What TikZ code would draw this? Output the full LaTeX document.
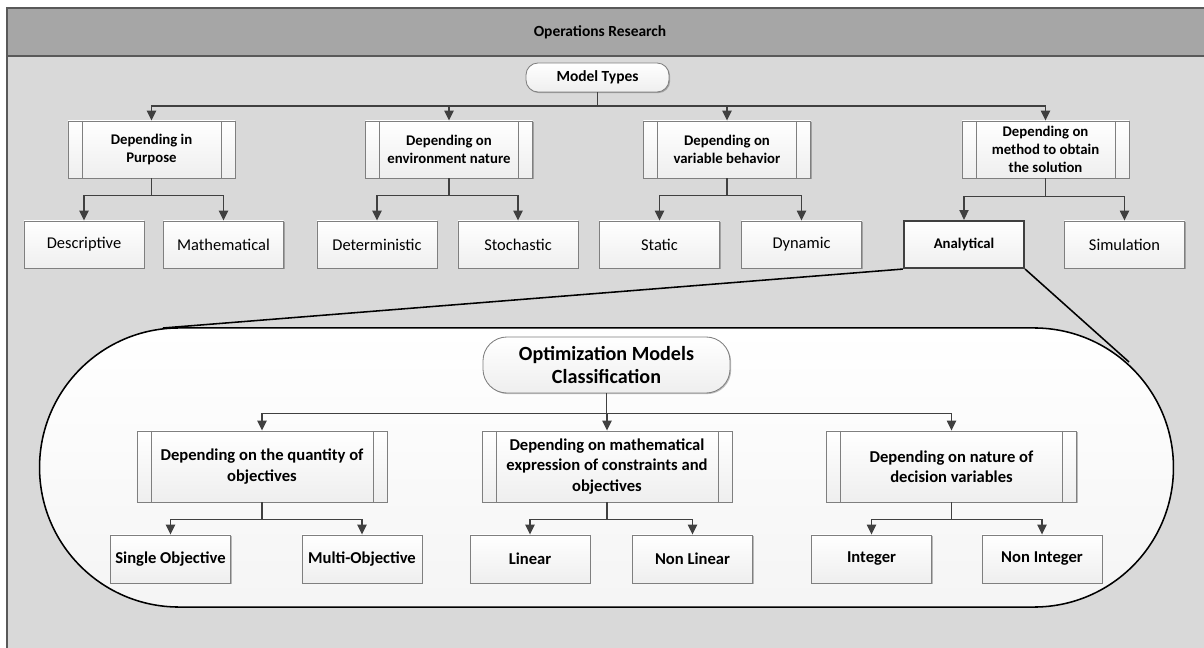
\documentclass[tikz,border=0pt]{standalone}
\usepackage{fontspec}
\setmainfont{Carlito}
\usetikzlibrary{arrows.meta,shapes.misc,shadows}

\definecolor{frameband}{HTML}{A6A6A6}
\definecolor{panel}{HTML}{D9D9D9}
\definecolor{frameedge}{HTML}{595959}
\definecolor{linkgray}{HTML}{404040}
\definecolor{boxedge}{HTML}{7F7F7F}
\newcommand\procgap{0.35cm}

\begin{document}
\begin{tikzpicture}[
    x=0.025cm, y=-0.025cm,
    >={Triangle[length=7pt,width=6.5pt]},
    link/.style={->, draw=linkgray, line width=1pt},
    callout/.style={draw=black, line width=1.1pt},
    boxfill/.style={draw=boxedge, line width=0.6pt, top color=white, bottom color=gray!13,
        drop shadow={shadow xshift=0.8pt, shadow yshift=-0.8pt, opacity=0.25, fill=black}},
    procbox/.style={boxfill, rectangle, minimum width=4.175cm, minimum height=1.425cm,
        inner sep=0pt, align=center, font=\fontsize{10.5}{12.6}\selectfont\bfseries,
        path picture={\draw[boxedge, line width=0.6pt]
            ([xshift=\procgap]path picture bounding box.north west) -- ([xshift=\procgap]path picture bounding box.south west)
            ([xshift=-\procgap]path picture bounding box.north east) -- ([xshift=-\procgap]path picture bounding box.south east);}},
    bigproc/.style={procbox, minimum width=6.25cm, minimum height=1.775cm,
        font=\fontsize{11.8}{14.5}\selectfont\bfseries},
    leaf/.style={boxfill, rectangle, minimum width=3cm, minimum height=1.175cm,
        inner sep=0pt, font=\fontsize{11.7}{14}\selectfont},
    bigleaf/.style={leaf, minimum height=1.2cm, font=\fontsize{11.8}{14}\selectfont\bfseries},
    roundbox/.style={boxfill, rounded corners=0.3cm, minimum width=3.575cm, minimum height=0.725cm,
        inner sep=0pt, font=\fontsize{11}{13}\selectfont\bfseries}
]
\useasboundingbox (0,0) rectangle (1204,648);
\clip (0,0) rectangle (1204,648);

% Frame
\fill[panel] (7,8) rectangle (1215,660);
\fill[frameband] (7,8) rectangle (1215,56);
\draw[frameedge, line width=0.8pt] (7,8) rectangle (1215,660);
\draw[frameedge, line width=0.8pt] (7,56) -- (1215,56);
\node[font=\fontsize{11}{13}\selectfont\bfseries] (title) at (600,32) {Operations Research};

% Blocks
\node[roundbox] (types) at (597.5,77.5) {Model Types};
\node[procbox] (purpose) at (151.5,149.5) {Depending in\\Purpose};
\node[procbox] (environ) at (449,149.5) {Depending on\\environment nature};
\node[procbox] (behav) at (727,149.5) {Depending on\\variable behavior};
\node[procbox] (method) at (1045.5,149.5) {Depending on\\method to obtain\\the solution};

\node[leaf] (desc) at (84,244.5) {Descriptive};
\node[leaf] (mathem) at (223.5,244.5) {Mathematical};
\node[leaf] (determ) at (377,244.5) {Deterministic};
\node[leaf] (stoch) at (518,244.5) {Stochastic};
\node[leaf] (static) at (659.5,244.5) {Static};
\node[leaf] (dynam) at (801.5,244.5) {Dynamic};
\node[leaf, draw=linkgray, line width=1.5pt, font=\fontsize{10.5}{13}\selectfont\bfseries] (analyt) at (964,244.5) {Analytical};
\node[leaf] (simul) at (1124.5,244.5) {Simulation};

% Connections
\draw[link] (types.south) -- ++(0,13.5) -| (purpose.north);
\draw[link] (types.south) -- ++(0,13.5) -| (environ.north);
\draw[link] (types.south) -- ++(0,13.5) -| (behav.north);
\draw[link] (types.south) -- ++(0,13.5) -| (method.north);

\draw[link] (purpose.south) -- ++(0,17) -| (desc.north);
\draw[link] (purpose.south) -- ++(0,17) -| (mathem.north);
\draw[link] (environ.south) -- ++(0,17) -| (determ.north);
\draw[link] (environ.south) -- ++(0,17) -| (stoch.north);
\draw[link] (behav.south) -- ++(0,17) -| (static.north);
\draw[link] (behav.south) -- ++(0,17) -| (dynam.north);
\draw[link] (method.south) -- ++(0,18) -| (analyt.north);
\draw[link] (method.south) -- ++(0,18) -| (simul.north);

% Zoom onto the analytical models
\coordinate (callL) at (163,328);
\coordinate (callR) at (1129,362);
\draw[callout] (analyt.south west) -- (callL);
\draw[callout] (analyt.south east) -- (callR);
\node[rounded rectangle, draw=black, line width=1.1pt, top color=white, bottom color=gray!8,
    minimum width=28.575cm, minimum height=6.975cm] (optzone) at (606.5,467.5) {};

\node[boxfill, rounded corners=0.6cm, minimum width=6.175cm, minimum height=1.4cm, inner sep=0pt,
    align=center, font=\fontsize{14.3}{17}\selectfont\bfseries] (optim) at (606.5,365) {Optimization Models\\Classification};

\node[bigproc] (quant) at (262,466.5) {Depending on the quantity of\\objectives};
\node[bigproc] (express) at (607,466.5) {Depending on mathematical\\expression of constraints and\\objectives};
\node[bigproc] (nature) at (951.5,466.5) {Depending on nature of\\decision variables};

\node[bigleaf] (single) at (170.5,559) {Single Objective};
\node[bigleaf] (multi) at (362,559) {Multi-Objective};
\node[bigleaf] (linear) at (530,559) {Linear};
\node[bigleaf] (nonlin) at (692.5,559) {Non Linear};
\node[bigleaf] (integ) at (871.5,559) {Integer};
\node[bigleaf] (noninteg) at (1042,559) {Non Integer};

\draw[link] (optim.south) -- ++(0,20) -| (quant.north);
\draw[link] (optim.south) -- ++(0,20) -| (express.north);
\draw[link] (optim.south) -- ++(0,20) -| (nature.north);

\draw[link] (quant.south) -- ++(0,17) -| (single.north);
\draw[link] (quant.south) -- ++(0,17) -| (multi.north);
\draw[link] (express.south) -- ++(0,17) -| (linear.north);
\draw[link] (express.south) -- ++(0,17) -| (nonlin.north);
\draw[link] (nature.south) -- ++(0,17) -| (integ.north);
\draw[link] (nature.south) -- ++(0,17) -| (noninteg.north);
\end{tikzpicture}
\end{document}
